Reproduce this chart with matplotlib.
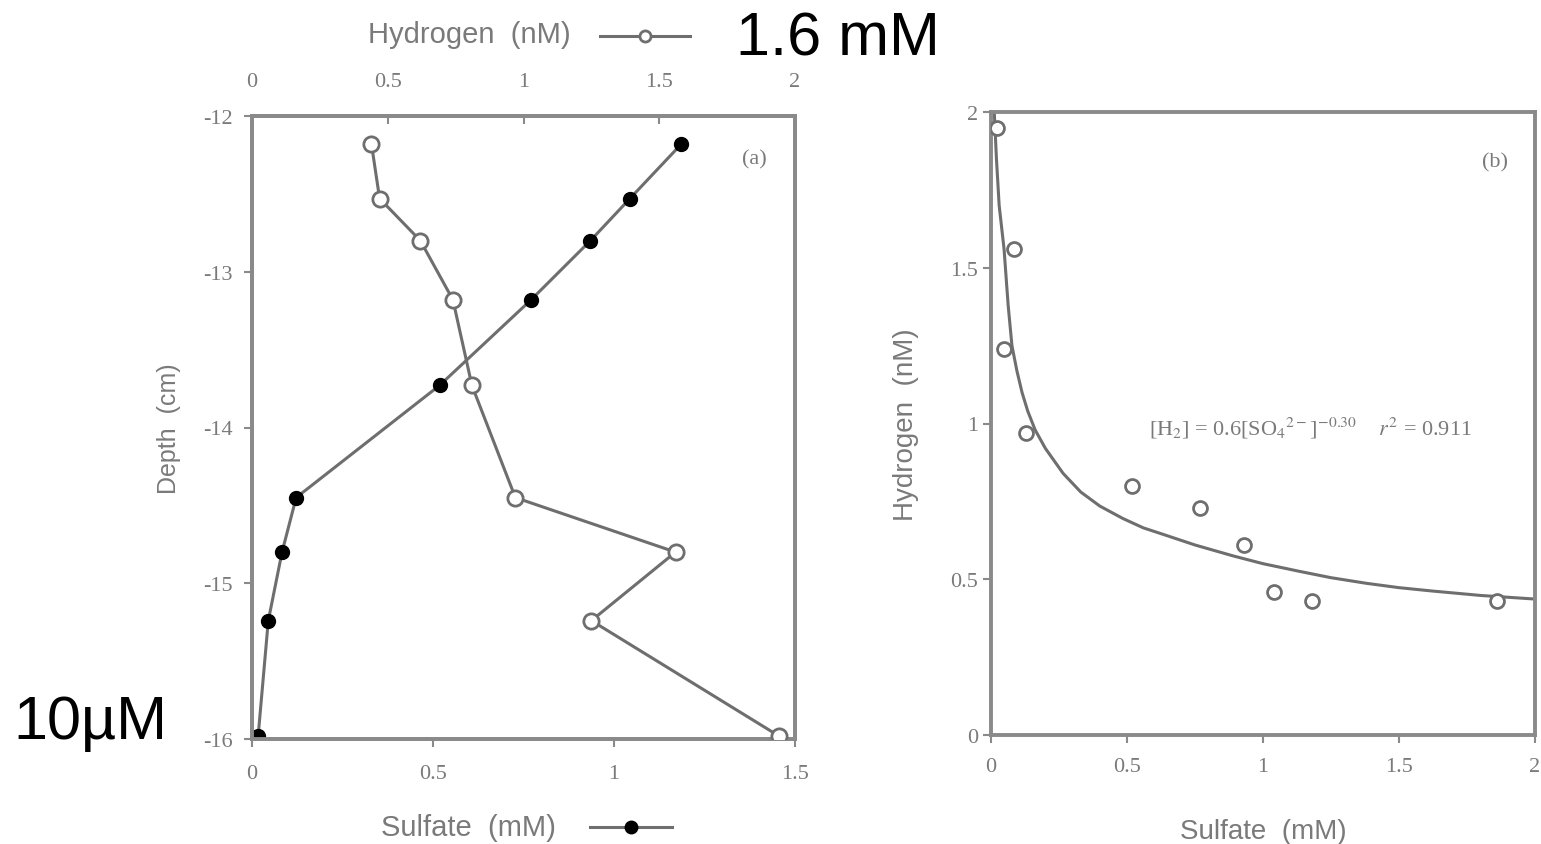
import matplotlib
matplotlib.use("Agg")
import matplotlib.pyplot as plt
from matplotlib.lines import Line2D

plt.rcParams['axes.unicode_minus'] = False

# ---- data (a): depth profile ----
depth = [-12.18, -12.53, -12.80, -13.18, -13.73, -14.45, -14.80, -15.24, -15.98]
hydrogen_a = [0.44, 0.47, 0.62, 0.74, 0.81, 0.97, 1.56, 1.25, 1.94]
sulfate_a = [1.186, 1.044, 0.935, 0.771, 0.518, 0.122, 0.083, 0.045, 0.017]

# ---- data (b): hydrogen vs sulfate ----
sulfate_b = [0.022, 0.085, 0.048, 0.129, 0.52, 0.77, 0.93, 1.04, 1.18, 1.86]
hydrogen_b = [1.95, 1.56, 1.24, 0.97, 0.80, 0.73, 0.61, 0.46, 0.43, 0.43]
fit_x = [0.012, 0.02, 0.03, 0.048, 0.063, 0.077, 0.095, 0.114, 0.135, 0.162,
         0.2, 0.265, 0.33, 0.40, 0.485, 0.56, 0.647, 0.75, 0.89, 1.0, 1.136,
         1.25, 1.38, 1.5, 1.625, 1.8, 1.99]
fit_y = [2.0, 1.85, 1.70, 1.56, 1.38, 1.25, 1.17, 1.10, 1.04, 0.98,
         0.92, 0.84, 0.78, 0.735, 0.695, 0.665, 0.64, 0.61, 0.575, 0.55, 0.525,
         0.505, 0.487, 0.473, 0.462, 0.448, 0.437]

depth_ticks = [-12, -13, -14, -15, -16]
sulf_ticks_a = [0, 0.5, 1, 1.5]
hyd_ticks_a = [0, 0.5, 1, 1.5, 2]
ticks_b = [0, 0.5, 1, 1.5, 2]

def fmt(v):
    return ('%g' % v)

GRAY = '#8a8a8a'
TXT = '#7a7a7a'
LINE = '#6e6e6e'
serif = 'Liberation Serif'
sans = 'Liberation Sans'

fig = plt.figure(figsize=(15.41, 8.45), dpi=100)
W, H = 1541, 845

def rect(x0, y0, x1, y1):
    return [x0 / W, 1 - y1 / H, (x1 - x0) / W, (y1 - y0) / H]

# ---------- panel (a) ----------
ax = fig.add_axes(rect(252, 117, 795, 740))
ax.plot(sulfate_a, depth, '-', color=LINE, lw=2.2, marker='o', ms=10,
        mfc='black', mec='black', zorder=3)
ax.set_xlim(0, 1.5)
ax.set_ylim(-16, -12)
ax.set_xticks(sulf_ticks_a)
ax.set_xticklabels([fmt(v) for v in sulf_ticks_a])
ax.set_yticks(depth_ticks)
ax.set_yticklabels([fmt(v) for v in depth_ticks])

axt = ax.twiny()
axt.plot(hydrogen_a, depth, '-', color=LINE, lw=2.2, marker='o', ms=11,
         mfc='white', mec=LINE, mew=2, zorder=3)
axt.set_xlim(0, 2)
axt.set_xticks(hyd_ticks_a)
axt.set_xticklabels([fmt(v) for v in hyd_ticks_a])

for a in (ax, axt):
    for s in a.spines.values():
        s.set_color(GRAY)
        s.set_linewidth(2.8)
    a.tick_params(colors=GRAY, labelcolor=TXT, width=1.5, length=6,
                  labelsize=16)
    for lab in a.get_xticklabels() + a.get_yticklabels():
        lab.set_family(serif)
ax.tick_params(axis='x', pad=12)
ax.tick_params(axis='y', pad=8)
axt.tick_params(axis='x', pad=18, direction='in')
ax.set_ylabel('Depth  (cm)', family=sans, fontsize=18, color=TXT, labelpad=16)
ax.text(0.926, 0.931, '(a)', transform=ax.transAxes, ha='center', va='center',
        family=serif, fontsize=16, color=TXT)

# ---------- panel (b) ----------
bx = fig.add_axes(rect(991, 113, 1535, 736))
bx.plot(sulfate_b, hydrogen_b, 'o', ms=10, mfc='white', mec=LINE, mew=2,
        zorder=3)
bx.plot(fit_x, fit_y, '-', color=LINE, lw=2.2, zorder=2)
bx.set_xlim(0, 2)
bx.set_ylim(0, 2)
bx.set_xticks(ticks_b)
bx.set_xticklabels([fmt(v) for v in ticks_b])
bx.set_yticks(ticks_b)
bx.set_yticklabels([fmt(v) for v in ticks_b])
for s in bx.spines.values():
    s.set_color(GRAY)
    s.set_linewidth(2.8)
bx.tick_params(colors=GRAY, labelcolor=TXT, width=1.5, length=6, labelsize=16)
for lab in bx.get_xticklabels() + bx.get_yticklabels():
    lab.set_family(serif)
bx.tick_params(axis='x', pad=10)
bx.set_ylabel('Hydrogen  (nM)', family=sans, fontsize=20, color=TXT,
              labelpad=22)
bx.set_xlabel('Sulfate  (mM)', family=sans, fontsize=20, color=TXT,
              labelpad=30)
bx.text(0.926, 0.92, '(b)', transform=bx.transAxes, ha='center', va='center',
        family=serif, fontsize=16, color=TXT)
bx.text(0.588, 0.494,
        r'[H$_2$] = 0.6[SO$_4$$^{2-}$]$^{-0.30}$    $r^2$ = 0.911',
        transform=bx.transAxes, ha='center', va='center', family=serif,
        fontsize=16, color=TXT, math_fontfamily='stix')

# ---------- axis titles with line keys ----------
fig.text(469 / W, 1 - 35 / H, 'Hydrogen  (nM)', ha='center', va='center',
         family=sans, fontsize=21, color=TXT)
fig.add_artist(Line2D([600 / W, 690 / W], [1 - 37 / H, 1 - 37 / H],
                      transform=fig.transFigure, color=LINE, lw=2.2))
fig.add_artist(Line2D([645 / W], [1 - 37 / H], transform=fig.transFigure,
                      marker='o', ms=8, mfc='white', mec=LINE, mew=2))
fig.text(468 / W, 1 - 828 / H, 'Sulfate  (mM)', ha='center', va='center',
         family=sans, fontsize=21, color=TXT)
fig.add_artist(Line2D([590 / W, 672 / W], [1 - 828 / H, 1 - 828 / H],
                      transform=fig.transFigure, color=LINE, lw=2.2))
fig.add_artist(Line2D([631 / W], [1 - 828 / H], transform=fig.transFigure,
                      marker='o', ms=9, mfc='black', mec='black'))

# ---------- overlaid annotations ----------
fig.text(838 / W, 1 - 40 / H, '1.6 mM', ha='center', va='center',
         family=sans, fontsize=44, color='black')
fig.text(90 / W, 1 - 724 / H, '10\u00b5M', ha='center', va='center',
         family=sans, fontsize=44, color='black')

fig.savefig('out.png', dpi=100)
